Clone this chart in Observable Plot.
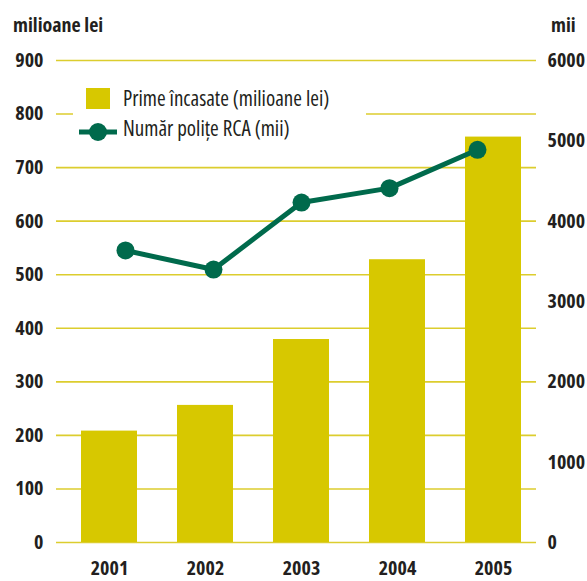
<!DOCTYPE html>
<html>
<head>
<meta charset="utf-8">
<script src="https://cdn.jsdelivr.net/npm/d3@7"></script>
<script src="https://cdn.jsdelivr.net/npm/@observablehq/plot@0.6"></script>
<style>
  body { margin: 0; background: #fff; }
  #c { position: relative; width: 587px; height: 581px; overflow: hidden;
       font-family: "Open Sans", sans-serif; font-stretch: condensed; color: #231f20; }
  #c > svg, #c > figure { position: absolute; left: 0; top: 0; margin: 0; }
  .t { position: absolute; font-weight: bold; font-size: 20px; line-height: 1; white-space: nowrap; }
  #legend { position: absolute; left: 73px; top: 76px; width: 293px; height: 76px; background: #fff; }
  .lg { position: absolute; font-size: 21px; line-height: 1; white-space: nowrap; }
</style>
</head>
<body>
<div id="c"></div>
<script>
const years = ["2001", "2002", "2003", "2004", "2005"];
const prime = [208, 256, 379, 528, 757];          // milioane lei (left axis)
const polite = [3635, 3398, 4232, 4411, 4888];    // mii (right axis)
const leftTicks = [0, 100, 200, 300, 400, 500, 600, 700, 800, 900];
const rightTicks = [0, 1000, 2000, 3000, 4000, 5000, 6000];
const seriesNames = ["Prime încasate (milioane lei)", "Număr polițe RCA (mii)"];
const axisTitles = ["milioane lei", "mii"];

const barColor = "#d7c800";
const gridColor = "#dccd2e";
const lineColor = "#006a4c";
const textColor = "#231f20";
const font = '"Open Sans", sans-serif';
const svgStyle = `font-family:${font};font-stretch:condensed;color:${textColor};background:transparent;overflow:visible;`;

const data = years.map((y, i) => ({ year: y, prime: prime[i], polite: polite[i] }));

const common = {
  width: 587, height: 581,
  marginTop: 60, marginBottom: 39, marginLeft: 56, marginRight: 51,
  style: svgStyle
};
const xScale = { domain: years, range: [79, 522], paddingInner: 0.42, paddingOuter: 0 };

const p1 = Plot.plot({
  ...common,
  x: xScale,
  y: { domain: [0, 900] },
  marks: [
    Plot.ruleY(leftTicks, { stroke: gridColor, strokeWidth: 1.6 }),
    Plot.barY(data, { x: "year", y: "prime", fill: barColor }),
    Plot.axisY(leftTicks, { anchor: "left", tickSize: 0, tickPadding: 13, fontSize: 20, fontWeight: "bold", fill: textColor, label: null }),
    Plot.axisX({ tickSize: 0, tickPadding: 18, fontSize: 20, fontWeight: "bold", fill: textColor, label: null })
  ]
});

const p2 = Plot.plot({
  ...common,
  x: { ...xScale, axis: null },
  y: { domain: [0, 6000], axis: null },
  marks: [
    Plot.lineY(data, { x: "year", y: "polite", stroke: lineColor, strokeWidth: 5 }),
    Plot.dot(data, { x: "year", y: "polite", r: 9, fill: lineColor }),
    Plot.axisY(rightTicks, { anchor: "right", tickSize: 0, tickPadding: 11, fontSize: 20, fontWeight: "bold", fill: textColor, label: null, tickFormat: d => String(d) })
  ]
});

const c = document.getElementById("c");
c.appendChild(p1);
c.appendChild(p2);

// axis titles
const t1 = document.createElement("div");
t1.className = "t"; t1.textContent = axisTitles[0];
t1.style.left = "13px"; t1.style.top = "15px";
c.appendChild(t1);
const t2 = document.createElement("div");
t2.className = "t"; t2.textContent = axisTitles[1];
t2.style.left = "551px"; t2.style.top = "15px";
c.appendChild(t2);

// legend
const lg = document.createElement("div");
lg.id = "legend";
lg.innerHTML = `
  <div style="position:absolute;left:13px;top:12px;width:24px;height:21px;background:${barColor}"></div>
  <svg style="position:absolute;left:0;top:40px" width="50" height="30">
    <line x1="6" x2="44" y1="16" y2="16" stroke="${lineColor}" stroke-width="5"/>
    <circle cx="25" cy="16" r="9" fill="${lineColor}"/>
  </svg>
  <div class="lg" style="left:50px;top:12px">${seriesNames[0]}</div>
  <div class="lg" style="left:50px;top:42px">${seriesNames[1]}</div>
`;
c.appendChild(lg);
</script>
</body>
</html>
